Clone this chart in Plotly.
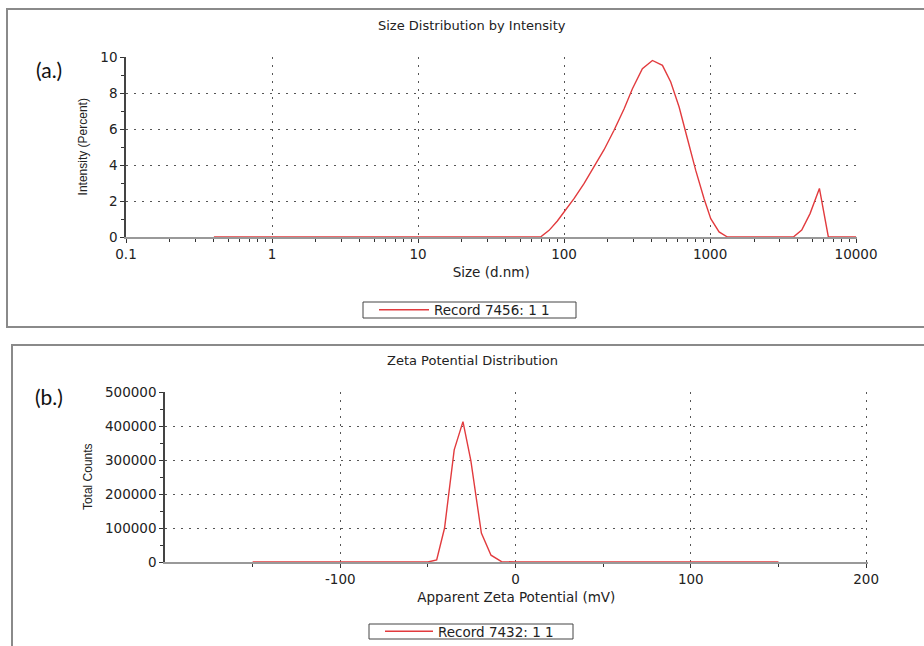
import plotly.graph_objects as go

# ---- Data: size distribution by intensity ----
size_nm = [0.4, 1, 10, 50, 69, 79, 90, 100, 117, 137, 160, 188, 220, 258, 294, 344,
           403, 472, 538, 614, 700, 798, 910, 1011, 1153, 1315, 2000, 3000, 3720,
           4245, 4840, 5610, 6460, 8000, 10000]
intensity_pct = [0, 0, 0, 0, 0, 0.37, 0.89, 1.39, 2.13, 2.96, 3.89, 4.85, 5.93, 7.13,
                 8.24, 9.35, 9.81, 9.54, 8.61, 7.22, 5.46, 3.70, 2.13, 1.02, 0.28, 0,
                 0, 0, 0, 0.39, 1.3, 2.7, 0, 0, 0]

# ---- Data: zeta potential distribution ----
zeta_mv = [-150, -100, -50, -45, -40.5, -35, -30, -25.5, -19.5, -14, -8, 0, 50, 100, 150]
total_counts = [0, 0, 0, 6000, 100000, 330000, 413000, 298000, 85000, 20000, 1000,
                0, 0, 0, 0]

size_ticks = [0.1, 1, 10, 100, 1000, 10000]
size_ticktext = ["0.1", "1", "10", "100", "1000", "10000"]
size_minor = [m * d for d in [0.1, 1, 10, 100, 1000] for m in range(2, 10)]
zeta_ticks = [-100, 0, 100, 200]
zeta_ticktext = ["-100", "0", "100", "200"]
count_ticks = [0, 100000, 200000, 300000, 400000, 500000]

W, H = 924, 646
def px(x): return x / W
def py(y): return 1 - y / H

RED = "#e23b3e"
FONT = "DejaVu Sans, Verdana, sans-serif"
NARROW = "Liberation Sans Narrow, Arial Narrow, sans-serif"
GRID = "#555555"
DOT = "2px,6px"

fig = go.Figure()
fig.add_trace(go.Scatter(x=size_nm, y=intensity_pct, mode="lines",
                         line=dict(color=RED, width=1.4), name="Record 7456: 1 1",
                         xaxis="x", yaxis="y", legend="legend"))
fig.add_trace(go.Scatter(x=zeta_mv, y=total_counts, mode="lines",
                         line=dict(color=RED, width=1.4), name="Record 7432: 1 1",
                         xaxis="x2", yaxis="y2", legend="legend2"))

common_axis = dict(showline=True, zeroline=False, showgrid=True, griddash=DOT,
                   gridcolor=GRID, gridwidth=1.2, ticks="outside", ticklen=4,
                   tickcolor="#333", tickfont=dict(family=FONT, size=13.5, color="#222"),
                   automargin=False)
minor_style = dict(tickmode="array", ticks="outside", ticklen=3, tickcolor="#333",
                   showgrid=False)

fig.update_layout(
    width=W, height=H, margin=dict(l=0, r=0, t=0, b=0, pad=0, autoexpand=False),
    paper_bgcolor="white", plot_bgcolor="white",
    xaxis=dict(common_axis, type="log", range=[-1, 4.003], domain=[px(126), px(856.5)],
               anchor="y", tickvals=size_ticks, ticktext=size_ticktext,
               linecolor="#999", linewidth=2,
               minor=dict(minor_style, tickvals=size_minor),
               title=dict(text="Size (d.nm)", font=dict(family=FONT, size=13.5, color="#222"),
                          standoff=6)),
    yaxis=dict(common_axis, range=[0, 10.03], domain=[py(237), py(56.5)], anchor="x",
               tickvals=[0, 2, 4, 6, 8, 10], linecolor="#444", linewidth=1.5,
               minor=dict(minor_style, tickvals=[1, 3, 5, 7, 9]),
               title=dict(text="Intensity (Percent)",
                          font=dict(family=NARROW, size=12, color="#222"), standoff=10)),
    xaxis2=dict(common_axis, range=[-200, 200.8], domain=[px(165), px(867.5)], anchor="y2",
                tickvals=zeta_ticks, ticktext=zeta_ticktext, linecolor="#999", linewidth=2,
                minor=dict(minor_style, tickvals=[-150, -50, 50, 150]),
                title=dict(text="Apparent Zeta Potential (mV)",
                           font=dict(family=FONT, size=13.5, color="#222"), standoff=6)),
    yaxis2=dict(common_axis, range=[0, 501500], domain=[py(562), py(391.5)], anchor="x2",
                tickvals=count_ticks, ticktext=[str(v) for v in count_ticks],
                linecolor="#444", linewidth=1.5,
                minor=dict(minor_style, tickvals=[50000, 150000, 250000, 350000, 450000]),
                title=dict(text="Total Counts",
                           font=dict(family=NARROW, size=12, color="#222"), standoff=10)),
    legend=dict(x=px(374), y=py(310), xanchor="left", yanchor="middle",
                borderwidth=0, bgcolor="rgba(0,0,0,0)",
                font=dict(family=FONT, size=13.5, color="#222"),
                itemwidth=50, tracegroupgap=0),
    legend2=dict(x=px(380), y=py(631.5), xanchor="left", yanchor="middle",
                 borderwidth=0, bgcolor="rgba(0,0,0,0)",
                 font=dict(family=FONT, size=13.5, color="#222"),
                 itemwidth=48, tracegroupgap=0),
    showlegend=True,
)

# panel frames
fig.add_shape(type="rect", xref="paper", yref="paper", x0=px(7), x1=1.02,
              y0=py(327), y1=py(9), line=dict(color="#8a8a8a", width=2), layer="below")
fig.add_shape(type="rect", xref="paper", yref="paper", x0=px(12), x1=1.02,
              y0=-0.02, y1=py(345), line=dict(color="#8a8a8a", width=2), layer="below")
# legend boxes
fig.add_shape(type="rect", xref="paper", yref="paper", x0=px(363), x1=px(576),
              y0=py(318), y1=py(302), line=dict(color="#444", width=1), layer="below")
fig.add_shape(type="rect", xref="paper", yref="paper", x0=px(369), x1=px(573),
              y0=py(639), y1=py(624), line=dict(color="#444", width=1), layer="below")

# titles and panel labels
label_font = dict(family="Lato, Open Sans, sans-serif", size=21, color="#111")
title_font = dict(family=FONT, size=13, color="#222")
fig.add_annotation(text="Size Distribution by Intensity", xref="paper", yref="paper",
                   x=px(472), y=py(25), xanchor="center", yanchor="middle",
                   showarrow=False, font=title_font)
fig.add_annotation(text="Zeta Potential Distribution", xref="paper", yref="paper",
                   x=px(473), y=py(360), xanchor="center", yanchor="middle",
                   showarrow=False, font=title_font)
fig.add_annotation(text="(a.)", xref="paper", yref="paper", x=px(49), y=py(69),
                   xanchor="center", yanchor="middle", showarrow=False, font=label_font)
fig.add_annotation(text="(b.)", xref="paper", yref="paper", x=px(49), y=py(396),
                   xanchor="center", yanchor="middle", showarrow=False, font=label_font)

fig.write_html("out.html")
